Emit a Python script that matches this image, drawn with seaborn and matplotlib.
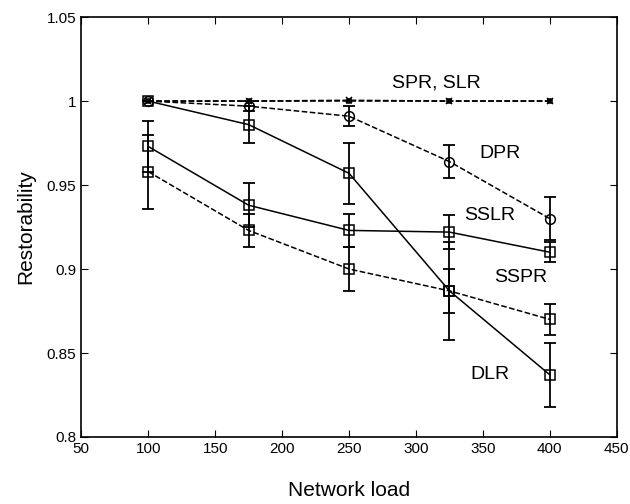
import numpy as np
import pandas as pd
import seaborn as sns
import matplotlib
matplotlib.use("Agg")
import matplotlib.pyplot as plt

# datos
carga = [100, 175, 250, 325, 400]

spr = [1.0, 1.0, 1.0005, 1.0, 1.0]
slr = [1.0, 1.0, 1.0, 1.0, 1.0]

dpr = [1.0, 0.997, 0.991, 0.964, 0.930]
dpr_err = [0.0, 0.003, 0.006, 0.010, 0.013]

dlr = [1.0, 0.986, 0.957, 0.887, 0.837]
dlr_err = [0.0, 0.011, 0.018, 0.029, 0.019]

sslr = [0.973, 0.938, 0.923, 0.922, 0.910]
sslr_err = [0.015, 0.013, 0.010, 0.010, 0.006]

sspr = [0.958, 0.923, 0.900, 0.887, 0.870]
sspr_err = [0.022, 0.010, 0.013, 0.013, 0.009]

etiquetas = ["SPR, SLR", "DPR", "SSLR", "SSPR", "DLR"]
pos_etiquetas = [(315, 1.011), (363, 0.969), (355, 0.932), (378, 0.895), (355, 0.837)]

sns.set_style("ticks", {"text.color": "k", "axes.labelcolor": "k",
                        "xtick.color": "k", "ytick.color": "k",
                        "axes.edgecolor": "k"})
plt.rcParams['font.family'] = ['Liberation Sans', 'DejaVu Sans']

fig = plt.figure(figsize=(6.3, 5.04), dpi=100)
ax = fig.add_axes([0.129, 0.133, 0.850, 0.833])

series = [
    (spr, None, "--", "x", 4, "none"),
    (slr, None, "--", "s", 3.5, "k"),
    (dpr, dpr_err, "--", "o", 7, "none"),
    (dlr, dlr_err, "-", "s", 7, "none"),
    (sslr, sslr_err, "-", "s", 7, "none"),
    (sspr, sspr_err, "--", "s", 7, "none"),
]

for vals, err, ls, mk, ms, mfc in series:
    df = pd.DataFrame({"x": carga, "y": vals})
    sns.lineplot(data=df, x="x", y="y", ax=ax, color="k", linestyle=ls,
                 marker=mk, markersize=ms, markerfacecolor=mfc,
                 markeredgecolor="k", markeredgewidth=1.1, linewidth=1.1)
    if err is not None:
        ax.errorbar(carga, vals, yerr=err, fmt="none", ecolor="k",
                    elinewidth=1.3, capsize=4, capthick=1.3)

for txt, (x, y) in zip(etiquetas, pos_etiquetas):
    ax.text(x, y, txt, ha="center", va="center", fontsize=14, color="k")

ax.set_xlim(50, 450)
ax.set_ylim(0.8, 1.05)
ax.set_xticks(range(50, 451, 50))
ax.set_yticks([0.8, 0.85, 0.9, 0.95, 1.0, 1.05])
ax.set_yticklabels(["0.8", "0.85", "0.9", "0.95", "1", "1.05"])
ax.tick_params(direction="in", top=True, right=True, labelsize=11, length=5,
               colors="k")
for s in ax.spines.values():
    s.set_visible(True)
    s.set_linewidth(1.2)
    s.set_color("k")
ax.set_xlabel("Network load", fontsize=15, labelpad=18, color="k")
ax.set_ylabel("Restorability", fontsize=15, labelpad=8, color="k")

fig.savefig("out.png", dpi=100)
